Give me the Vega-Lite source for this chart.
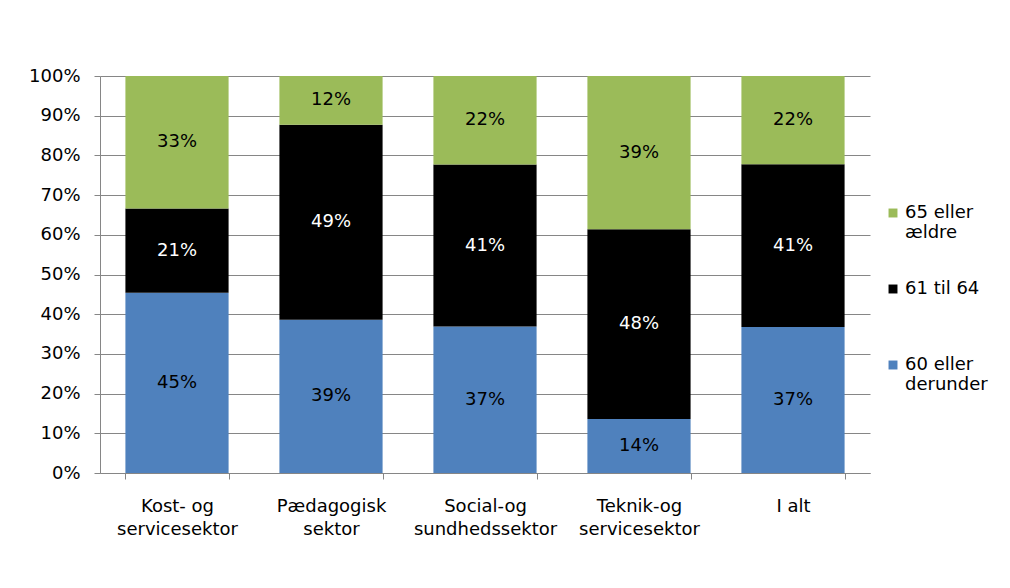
{
  "$schema": "https://vega.github.io/schema/vega-lite/v6.json",
  "width": 770,
  "height": 397,
  "autosize": {"type": "none"},
  "padding": {"left": 100, "top": 76, "right": 140, "bottom": 115},
  "background": "white",
  "config": {
    "font": "DejaVu Sans",
    "view": {"stroke": null},
    "axis": {"labelFont": "DejaVu Sans", "labelColor": "#000000", "labelFontSize": 18, "domainColor": "#868686", "tickColor": "#868686", "gridColor": "#868686"}
  },
  "data": {
    "values": [
      {"sektor": "Kost- og servicesektor", "alder": "60 eller derunder", "andel": 0.454, "o": 1},
      {"sektor": "Kost- og servicesektor", "alder": "61 til 64", "andel": 0.212, "o": 2},
      {"sektor": "Kost- og servicesektor", "alder": "65 eller ældre", "andel": 0.334, "o": 3},
      {"sektor": "Pædagogisk sektor", "alder": "60 eller derunder", "andel": 0.386, "o": 1},
      {"sektor": "Pædagogisk sektor", "alder": "61 til 64", "andel": 0.491, "o": 2},
      {"sektor": "Pædagogisk sektor", "alder": "65 eller ældre", "andel": 0.123, "o": 3},
      {"sektor": "Social-og sundhedssektor", "alder": "60 eller derunder", "andel": 0.369, "o": 1},
      {"sektor": "Social-og sundhedssektor", "alder": "61 til 64", "andel": 0.408, "o": 2},
      {"sektor": "Social-og sundhedssektor", "alder": "65 eller ældre", "andel": 0.223, "o": 3},
      {"sektor": "Teknik-og servicesektor", "alder": "60 eller derunder", "andel": 0.136, "o": 1},
      {"sektor": "Teknik-og servicesektor", "alder": "61 til 64", "andel": 0.478, "o": 2},
      {"sektor": "Teknik-og servicesektor", "alder": "65 eller ældre", "andel": 0.386, "o": 3},
      {"sektor": "I alt", "alder": "60 eller derunder", "andel": 0.368, "o": 1},
      {"sektor": "I alt", "alder": "61 til 64", "andel": 0.41, "o": 2},
      {"sektor": "I alt", "alder": "65 eller ældre", "andel": 0.222, "o": 3}
    ]
  },
  "encoding": {
    "x": {
      "field": "sektor", "type": "nominal", "sort": null,
      "scale": {"paddingInner": 0.33, "paddingOuter": 0.165},
      "axis": {
        "title": null, "labelAngle": 0, "labelPadding": 18, "tickBand": "extent", "tickSize": 6,
        "labelExpr": "datum.label == 'I alt' ? datum.label : [slice(datum.label, 0, lastindexof(datum.label, ' ')), slice(datum.label, lastindexof(datum.label, ' ') + 1)]",
        "labelLineHeight": 23
      }
    },
    "y": {
      "field": "andel", "type": "quantitative", "stack": "zero",
      "scale": {"domain": [0, 1]},
      "axis": {"title": null, "values": [0,0.1,0.2,0.3,0.4,0.5,0.6,0.7,0.8,0.9,1], "format": ".0%", "grid": true, "tickSize": 6, "labelPadding": 14}
    },
    "order": {"field": "o", "type": "quantitative"}
  },
  "layer": [
    {
      "mark": {"type": "bar"},
      "encoding": {
        "color": {
          "field": "alder", "type": "nominal",
          "scale": {"domain": ["65 eller ældre", "61 til 64", "60 eller derunder"], "range": ["#9BBB59", "#000000", "#4F81BD"]},
          "legend": {
            "title": null, "orient": "none", "legendX": 784, "legendY": 128,
            "symbolType": "square", "symbolSize": 80, "symbolStrokeWidth": 0,
            "labelFontSize": 18, "labelFont": "DejaVu Sans", "labelColor": "#000000",
            "gridAlign": "all", "columns": 1,
            "rowPadding": 38, "labelOffset": 3,
            "labelExpr": "indexof(datum.label, 'eller') >= 0 ? [slice(datum.label, 0, lastindexof(datum.label, ' ')), slice(datum.label, lastindexof(datum.label, ' ') + 1)] : datum.label"
          }
        }
      }
    },
    {
      "mark": {"type": "text", "fontSize": 18},
      "encoding": {
        "y": {"field": "andel", "type": "quantitative", "stack": "zero", "bandPosition": 0.5},
        "text": {"field": "andel", "type": "quantitative", "format": ".0%"},
        "color": {"condition": {"test": "datum.alder == '61 til 64'", "value": "#ffffff"}, "value": "#000000"}
      }
    }
  ]
}
